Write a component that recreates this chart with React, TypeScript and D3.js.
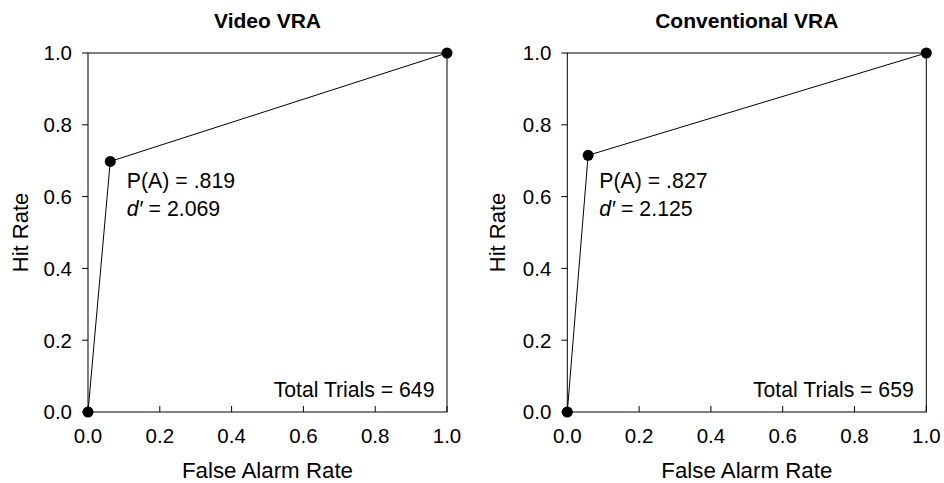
import React from "react";
import * as d3 from "d3";

const panelTitles = ["Video VRA", "Conventional VRA"];
const falseAlarmRates = [
  [0.0, 0.062, 1.0],
  [0.0, 0.058, 1.0],
];
const hitRates = [
  [0.0, 0.698, 1.0],
  [0.0, 0.715, 1.0],
];
const pAValues = [".819", ".827"];
const dPrimeValues = ["2.069", "2.125"];
const totalTrials = [649, 659];
const annotX = [0.108, 0.089];
const annotY = 0.625;
const tickValues = [0, 0.2, 0.4, 0.6, 0.8, 1.0];
const tickLabels = ["0.0", "0.2", "0.4", "0.6", "0.8", "1.0"];

const W = 944;
const H = 483;
const panelLeft = [88, 567.3];
const plotW = 359;
const top = 53;
const bottom = 412;
const FONT = "'Liberation Sans', Arial, Helvetica, sans-serif";

function Panel({ i }: { i: number }) {
  const x = d3.scaleLinear().domain([0, 1]).range([panelLeft[i], panelLeft[i] + plotW]);
  const y = d3.scaleLinear().domain([0, 1]).range([bottom, top]);
  const pts = falseAlarmRates[i].map((fa, k) => [fa, hitRates[i][k]] as [number, number]);
  const line = d3
    .line<[number, number]>()
    .x((d) => x(d[0]))
    .y((d) => y(d[1]));
  const cx = (x(0) + x(1)) / 2;
  const cy = (y(0) + y(1)) / 2;
  const yLabelX = i === 0 ? 28 : 505;
  return (
    <g>
      <text
        x={cx}
        y={28}
        textAnchor="middle"
        fontWeight="bold"
        fontSize={21}
        fontFamily={FONT}
      >
        {panelTitles[i]}
      </text>
      {/* frame */}
      <rect
        x={x(0)}
        y={y(1)}
        width={x(1) - x(0)}
        height={y(0) - y(1)}
        fill="none"
        stroke="#000"
        strokeWidth={1}
      />
      {/* y ticks (outside) */}
      {tickValues.map((t, k) => (
        <g key={"y" + k}>
          <line x1={x(0) - 6} x2={x(0)} y1={y(t)} y2={y(t)} stroke="#000" strokeWidth={1} />
          <text
            x={x(0) - 16}
            y={y(t)}
            dy="0.36em"
            textAnchor="end"
            fontSize={20.5}
            fontFamily={FONT}
          >
            {tickLabels[k]}
          </text>
        </g>
      ))}
      {/* x ticks (inside) */}
      {tickValues.map((t, k) => (
        <g key={"x" + k}>
          <line x1={x(t)} x2={x(t)} y1={y(0)} y2={y(0) - 6} stroke="#000" strokeWidth={1} />
          <text x={x(t)} y={y(0) + 31} textAnchor="middle" fontSize={20.5} fontFamily={FONT}>
            {tickLabels[k]}
          </text>
        </g>
      ))}
      <text x={cx} y={478} textAnchor="middle" fontSize={22.3} fontFamily={FONT}>
        False Alarm Rate
      </text>
      <text
        transform={`translate(${yLabelX},${cy}) rotate(-90)`}
        textAnchor="middle"
        fontSize={22}
        fontFamily={FONT}
      >
        Hit Rate
      </text>
      <path d={line(pts) || ""} fill="none" stroke="#000" strokeWidth={1} />
      {pts.map((p, k) => (
        <circle key={k} cx={x(p[0])} cy={y(p[1])} r={5.5} fill="#000" />
      ))}
      <text x={x(annotX[i])} y={y(annotY)} fontSize={21.3} fontFamily={FONT}>
        {"P(A) = " + pAValues[i]}
      </text>
      <text x={x(annotX[i])} y={y(annotY) + 28} fontSize={21.3} fontFamily={FONT}>
        <tspan fontStyle="italic">d′</tspan>
        {" = " + dPrimeValues[i]}
      </text>
      <text x={x(0.965)} y={397} textAnchor="end" fontSize={21.2} fontFamily={FONT}>
        {"Total Trials = " + totalTrials[i]}
      </text>
    </g>
  );
}

export default function App() {
  return (
    <svg
      width={W}
      height={H}
      style={{ position: "absolute", left: 0, top: 0, background: "#fff" }}
    >
      <rect width={W} height={H} fill="#fff" />
      <Panel i={0} />
      <Panel i={1} />
    </svg>
  );
}
